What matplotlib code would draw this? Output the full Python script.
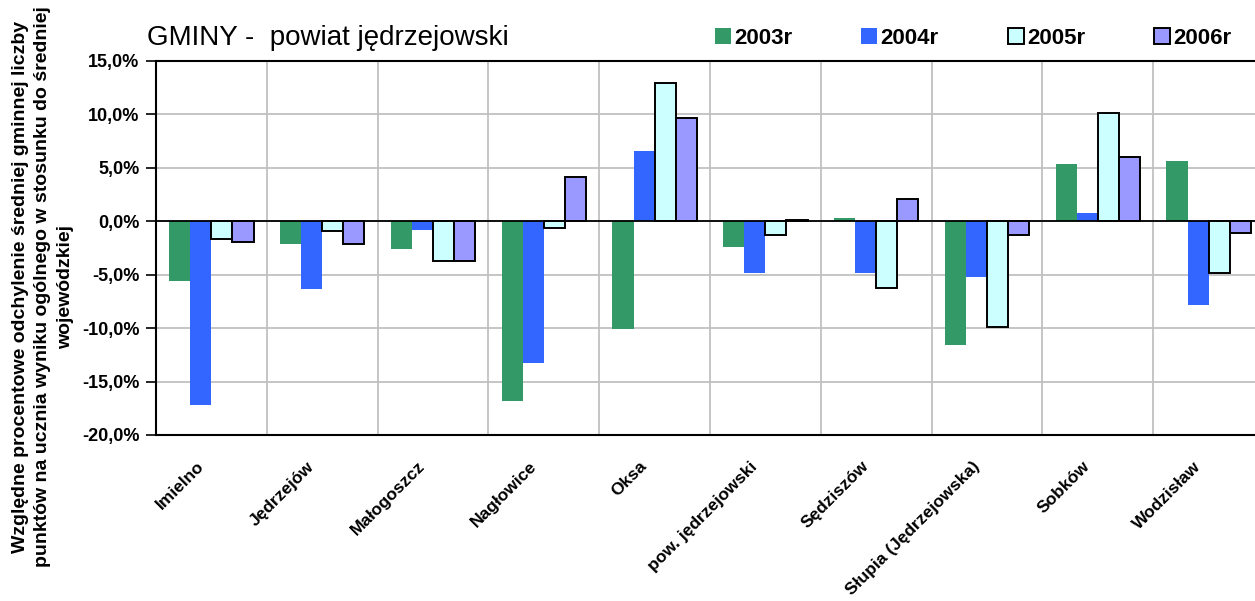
import matplotlib
matplotlib.use("Agg")
import matplotlib.pyplot as plt
import matplotlib.transforms as mtransforms
from matplotlib.patches import Patch
from matplotlib.ticker import FuncFormatter, MultipleLocator
import numpy as np

plt.rcParams['font.family'] = ['Liberation Sans', 'DejaVu Sans']

categories = ["Imielno", "Jędrzejów", "Małogoszcz", "Nagłowice", "Oksa",
              "pow. jędrzejowski", "Sędziszów", "Słupia (Jędrzejowska)",
              "Sobków", "Wodzisław"]
series_names = ["2003r", "2004r", "2005r", "2006r"]
v2003 = [-5.6, -2.1, -2.6, -16.8, -10.1, -2.4, 0.35, -11.6, 5.4, 5.6]
v2004 = [-17.2, -6.3, -0.8, -13.3, 6.6, -4.8, -4.8, -5.2, 0.75, -7.8]
v2005 = [-1.7, -0.9, -3.75, -0.6, 12.9, -1.3, -6.2, -9.9, 10.1, -4.8]
v2006 = [-1.9, -2.1, -3.75, 4.1, 9.7, 0.15, 2.1, -1.3, 6.0, -1.1]
title = "GMINY -  powiat jędrzejowski"
ylabel = ("Względne procentowe odchylenie średniej gminnej liczby\n"
          "punktów na ucznia wyniku ogólnego w stosunku do średniej\n"
          "wojewódzkiej")

series = [v2003, v2004, v2005, v2006]
colors = ["#339966", "#3366FF", "#CCFFFF", "#9999FF"]
edges = [None, None, "black", "black"]

W, H = 1255, 601
fig = plt.figure(figsize=(W / 100, H / 100), dpi=100)
ax = fig.add_axes([156 / W, 1 - 435 / H, 1108 / W, (435 - 61) / H])

x = np.arange(len(categories))
bw = 0.19
for k, (vals, c, ec) in enumerate(zip(series, colors, edges)):
    if ec is None:
        ax.bar(x + (k - 1.5) * bw, vals, bw, color=c, linewidth=0, zorder=3)
    else:
        ax.bar(x + (k - 1.5) * bw, vals, bw, color=c, edgecolor=ec,
               linewidth=1.4, zorder=3)

ax.set_xlim(-0.5, len(categories) - 0.5)
ax.set_ylim(-20, 15)
ax.yaxis.set_major_locator(MultipleLocator(5))
ax.yaxis.set_major_formatter(FuncFormatter(lambda v, p: f"{v:.1f}%".replace(".", ",")))
ax.set_xticks(np.arange(len(categories) + 1) - 0.5)
ax.set_xticklabels([])
ax.tick_params(axis='x', length=0)
ax.tick_params(axis='y', direction='out', length=7, width=1.2, pad=5,
               labelsize=13)
for lab in ax.get_yticklabels():
    lab.set_fontweight('bold')
ax.grid(True, color="#c0c0c0", linewidth=1.3, zorder=0)
ax.set_axisbelow(True)
ax.axhline(0, color="black", linewidth=1.3, zorder=4)
for s in ["left", "bottom", "top"]:
    ax.spines[s].set_linewidth(1.5)
    ax.spines[s].set_color("black")
ax.spines["right"].set_visible(False)

# category labels
trans = mtransforms.blended_transform_factory(ax.transData, ax.transAxes)
off = mtransforms.ScaledTranslation(-10 / 100, -29 / 100, fig.dpi_scale_trans)
for i, name in enumerate(categories):
    ax.text(i, 0, name, transform=trans + off, rotation=45,
            rotation_mode='anchor', ha='right', va='center',
            fontsize=12.5, fontweight='bold')

fig.text(147 / W, 1 - 45 / H, title, fontsize=20, ha='left', va='baseline')

fig.text(43 / W, 1 - 287 / H, ylabel, rotation=90, ha='center', va='center',
         multialignment='center', fontsize=14, fontweight='bold',
         linespacing=1.45)

handles = [Patch(facecolor=c, edgecolor=(ec if ec else c),
                 linewidth=(1.4 if ec else 0)) for c, ec in zip(colors, edges)]
fig.legend(handles, series_names, ncol=4, loc='center left',
           bbox_to_anchor=(715 / W, 1 - 38 / H), frameon=False,
           prop={'size': 16, 'weight': 'bold'}, handlelength=0.72,
           handleheight=0.72, handletextpad=0.15, columnspacing=3.1,
           borderpad=0, borderaxespad=0)

fig.savefig("out.png", dpi=100)
